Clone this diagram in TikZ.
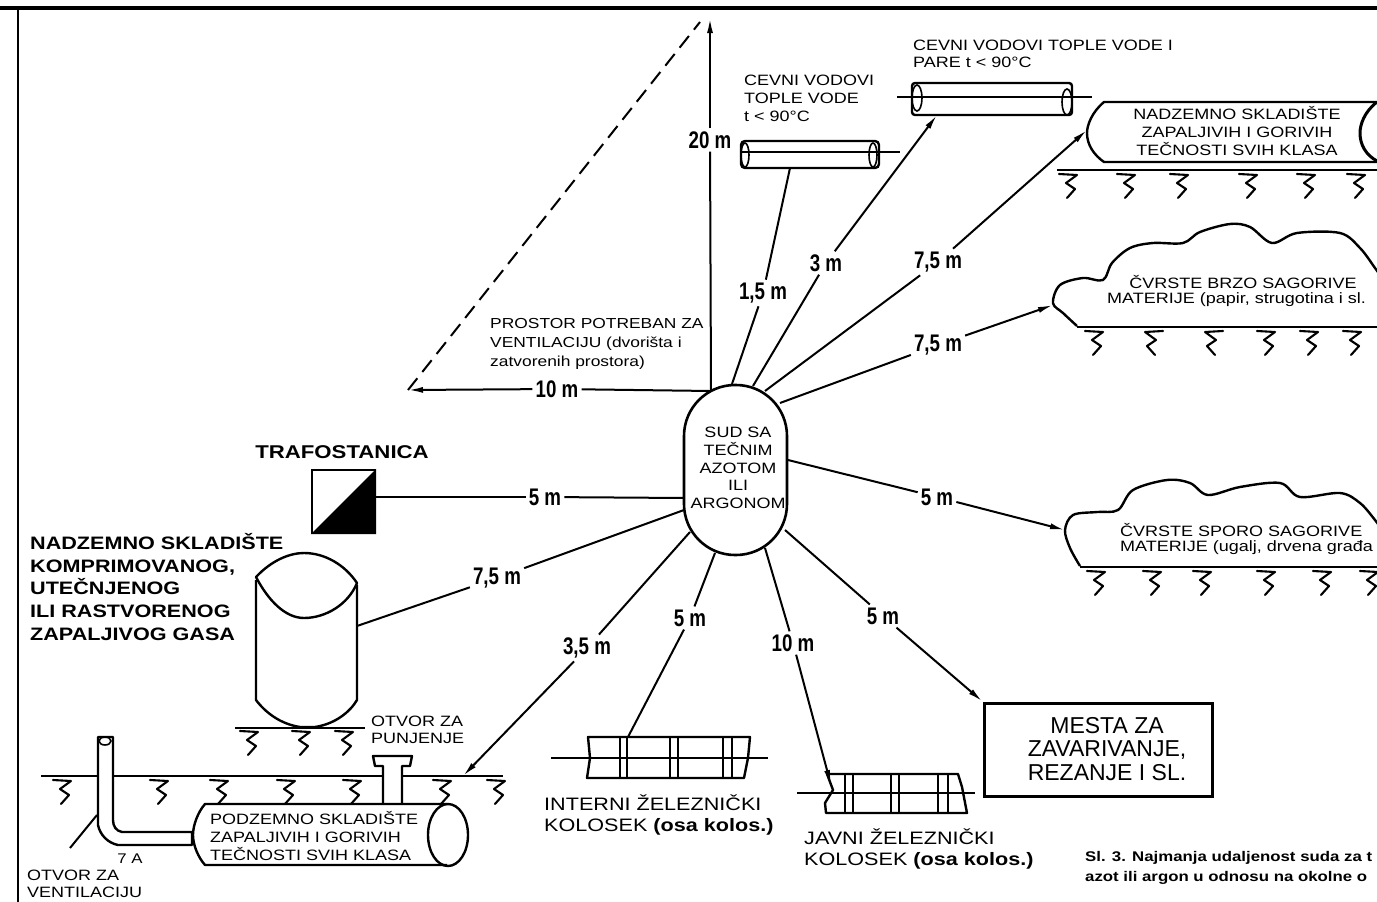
\documentclass[tikz,border=0pt]{standalone}
\usepackage{fontspec}
\usepackage{graphicx}
\setmainfont[FakeStretch=1.2]{Liberation Sans}
\newfontfamily\nf{Liberation Sans}
\usetikzlibrary{arrows.meta}
\newcommand{\dimtxt}[1]{\scalebox{.78}[1]{\nf\bfseries #1}}
\tikzset{
  conn/.style={line width=2pt},
  arr/.style={line width=2pt,-{Latex[length=15pt,width=6pt]}},
  shapeline/.style={line width=2.4pt,line join=round},
  thin axis/.style={line width=1.7pt},
  dimlab/.style={inner sep=3pt,font=\fontsize{24}{24}\selectfont},
  txt/.style={inner sep=0pt,anchor=west,align=left},
  s15/.style={txt,font=\fontsize{15}{17.7}\selectfont},
  s18/.style={txt,font=\fontsize{18}{22.6}\selectfont\bfseries},
  gh/.pic={\draw[line width=2.1pt,line join=round,line cap=round]
     (-10,0)--(8,1)--(-3,9)--(6,15)--(-2,24);},
  ghm/.pic={\draw[line width=2.1pt,line join=round,line cap=round]
     (10,0)--(-8,1)--(3,9)--(-6,15)--(2,24);}
}
\begin{document}
\begin{tikzpicture}[x=1pt,y=-1pt]
\useasboundingbox (0,0) rectangle (1377,902);
% frame
\draw[line width=4pt] (0,8) -- (1377,8);
\draw[line width=2.6pt] (18,8) -- (18,902);

% central vessel
\node[draw,line width=2.6pt,rounded corners=51pt,minimum width=103pt,minimum height=170pt,inner sep=0pt] (sud) at (735.5,470) {};
\node[s15,align=center,anchor=center,font=\fontsize{15}{17.8}\selectfont] (sudt) at (738,468) {SUD SA\\TEČNIM\\AZOTOM\\ILI\\ARGONOM};
\coordinate (s15) at (732,384);
\coordinate (s3) at (753,386);
\coordinate (s75t) at (765,391);
\coordinate (s75c) at (780,403);
\coordinate (s5c) at (788,460);
\coordinate (s5w) at (785,530);
\coordinate (s10) at (765,548);
\coordinate (s5i) at (715,553);
\coordinate (s35) at (690,532);
\coordinate (s75w) at (684,510);
\coordinate (s5t) at (684,498);

% ventilation triangle
\coordinate (tA) at (408,390);
\coordinate (tB) at (710,18);
\coordinate (tC) at (711,391);
\coordinate (tD) at (700,22);
\node[dimlab] (l20) at (710,140) {\dimtxt{20 m}};
\node[dimlab] (l10) at (557,389) {\dimtxt{10 m}};
\draw[conn,dash pattern=on 15pt off 8pt] (tA) -- (tD);
\draw[arr] (l20) -- (tB);
\draw[conn] (l20) -- (tC);
\draw[arr] (l10) -- (tA);
\draw[conn] (l10) -- (tC);
\node[s15,font=\fontsize{14.5}{19}\selectfont] (prostor) at (490,344) {PROSTOR POTREBAN ZA\\VENTILACIJU (dvorišta i\\zatvorenih prostora)};

% pipe 1
\node[draw,line width=2.4pt,rounded corners=4pt,minimum width=138pt,minimum height=27pt,inner sep=0pt] (pipeA) at (810,154.5) {};
\draw[line width=1.6pt] (745,155) ellipse [x radius=4, y radius=12];
\draw[line width=1.6pt] (873,155) ellipse [x radius=4, y radius=12];
\draw[thin axis] (741,152) -- (900,152);
\node[s15,font=\fontsize{15}{18}\selectfont] (pipeAt) at (744,98) {CEVNI VODOVI\\TOPLE VODE\\t < 90°C};
\coordinate (pipeAb) at (790,168);

% pipe 2
\node[draw,line width=2.4pt,rounded corners=3pt,minimum width=160pt,minimum height=32pt,inner sep=0pt] (pipeB) at (992,99) {};
\draw[line width=1.6pt] (917,98) ellipse [x radius=5, y radius=13];
\draw[line width=1.6pt] (1067,102) ellipse [x radius=5, y radius=13];
\draw[thin axis] (897,97) -- (1092,97);
\node[s15,font=\fontsize{15}{17}\selectfont] (pipeBt) at (913,54) {CEVNI VODOVI TOPLE VODE I\\PARE t < 90°C};
\coordinate (pipeBb) at (937,115);

% surface tank
\draw[shapeline] (1377,102) -- (1104,102) .. controls (1092,112) and (1087,125) .. (1087,133)
   .. controls (1087,145) and (1094,155) .. (1104,162) -- (1377,162);
\draw[line width=3pt] (1377,102) .. controls (1364,112) and (1360,125) .. (1360,133)
   .. controls (1360,145) and (1366,155) .. (1377,161);
\node[s15,align=center,anchor=center,font=\fontsize{15}{18}\selectfont] (tankT) at (1237,131.5) {NADZEMNO SKLADIŠTE\\ZAPALJIVIH I GORIVIH\\TEČNOSTI SVIH KLASA};
\coordinate (tankL) at (1087,130);
\draw[shapeline] (1057,170) -- (1377,170);
\foreach \x in {1069,1127,1180,1249,1307,1357} \pic at (\x,174) {gh};

% cloud 1
\draw[shapeline] plot[smooth,tension=.55] coordinates {(1077,326) (1063,313) (1053,303) (1060,285) (1083,278) (1103,280) (1112,263) (1130,248) (1153,243) (1183,243) (1200,232) (1230,224) (1250,227) (1272,243) (1297,233) (1340,233) (1360,248) (1375,268) (1382,278)};
\draw[shapeline] (1077,327) -- (1377,327);
\foreach \x in {1095,1267,1310,1353} \pic at (\x,331) {gh};
\foreach \x in {1153,1213} \pic at (\x,331) {ghm};
\node[s15,align=center,anchor=center,font=\fontsize{15}{17.5}\selectfont] (cl1a) at (1243,282) {ČVRSTE BRZO SAGORIVE};
\node[s15,font=\fontsize{15}{17.5}\selectfont] (cl1b) at (1107,300) {MATERIJE (papir, strugotina i sl.};
\coordinate (cl1L) at (1053,305);

% cloud 2
\draw[shapeline] plot[smooth,tension=.55] coordinates {(1080,566) (1070,548) (1065,530) (1073,515) (1097,512) (1118,510) (1133,490) (1167,480) (1190,483) (1208,495) (1240,487) (1280,483) (1300,497) (1340,493) (1360,503) (1375,520) (1382,530)};
\draw[shapeline] (1080,567) -- (1377,567);
\foreach \x in {1097,1203,1267,1370} \pic at (\x,571) {gh};
\foreach \x in {1153,1323} \pic at (\x,571) {gh};
\node[s15,font=\fontsize{15}{17.5}\selectfont] (cl2a) at (1120,530) {ČVRSTE SPORO SAGORIVE};
\node[s15,font=\fontsize{15}{17.5}\selectfont] (cl2b) at (1120,548) {MATERIJE (ugalj, drvena građa};
\coordinate (cl2L) at (1065,530);

% transformer
\node[draw,line width=2.4pt,minimum size=63pt,inner sep=0pt] (trafo) at (343.5,501.5) {};
\fill (trafo.north east) -- (trafo.south east) -- (trafo.south west) -- cycle;
\node[txt,anchor=center,font=\fontsize{18.5}{22}\selectfont\bfseries] (trafot) at (342,452) {TRAFOSTANICA};

% gas tank (cylinder)
\draw[shapeline] (256,580) -- (256,700) .. controls (265,712) and (280,724) .. (300,727)
   -- (315,727) .. controls (335,724) and (350,712) .. (357,700) -- (357,585);
\draw[shapeline] (256,577) .. controls (272,560) and (290,553) .. (304,553)
   .. controls (325,553) and (345,565) .. (357,583)
   .. controls (348,605) and (325,618) .. (304,618)
   .. controls (285,618) and (268,600) .. (256,577) -- cycle;
\node[s18] (gast) at (30,587) {NADZEMNO SKLADIŠTE\\KOMPRIMOVANOG,\\UTEČNJENOG\\ILI RASTVORENOG\\ZAPALJIVOG GASA};
\coordinate (gasR) at (357,626);
\draw[shapeline] (235,728) -- (365,728);
\pic at (250,731) {gh};
\pic at (302,731) {gh};
\pic at (345,731) {gh};

% underground tank
\draw[shapeline] (41,776) -- (503,776);
\foreach \x in {63,160,220,287,353,443,497} \pic at (\x,780) {gh};
\draw[shapeline,fill=white] (98,737) -- (98,825) .. controls (100,835) and (108,843) .. (118,845) -- (192,845)
  -- (192,832) -- (122,832) .. controls (116,831) and (113,826) .. (113,820) -- (113,737) -- cycle;
\draw[line width=1.6pt] (105,741) ellipse [x radius=6, y radius=4];
\draw[shapeline,fill=white] (383,804) -- (383,766) -- (375,766) -- (373,756) -- (412,756) -- (410,766) -- (402,766) -- (402,804);
\draw[shapeline,fill=white] (447,804) -- (205,804) .. controls (198,812) and (193,825) .. (193,835)
  .. controls (193,845) and (198,857) .. (205,865) -- (447,865);
\draw[shapeline] (448,835) ellipse [x radius=20, y radius=31];
\node[s15,font=\fontsize{15}{18}\selectfont] (podt) at (210,836) {PODZEMNO SKLADIŠTE\\ZAPALJIVIH I GORIVIH\\TEČNOSTI SVIH KLASA};
\node[txt,font=\fontsize{15}{17}\selectfont] (otvp) at (371,730) {OTVOR ZA\\PUNJENJE};
\node[txt,font=\fontsize{15}{17}\selectfont] (otvv) at (27,884) {OTVOR ZA\\VENTILACIJU};
\node[txt,anchor=center,font=\fontsize{14}{14}\selectfont] (sevena) at (130,859) {7 A};
\coordinate (ventA) at (97,815);
\coordinate (ventB) at (70,848);
\draw[conn] (ventA) -- (ventB);
\coordinate (undG) at (463,776);

% internal track
\draw[shapeline] (588,737) -- (750,737) -- (748,758) -- (744,778) -- (587,778) -- (590,758) -- cycle;
\draw[thin axis] (551,758) -- (768,758);
\foreach \x in {620,627,670,678,723,732} \draw[line width=1.8pt] (\x,737) -- (\x,778);
\coordinate (intT) at (628,737);
\node[txt,font=\fontsize{18}{21.5}\selectfont] (intt) at (544,815) {INTERNI ŽELEZNIČKI\\KOLOSEK {\bfseries (osa kolos.)}};

% public track
\draw[shapeline] (827,774) -- (958,774) -- (962,787) -- (967,813) -- (826,813) -- (825,803) -- (833,790) -- cycle;
\draw[thin axis] (797,793) -- (975,793);
\foreach \x in {845,853,891,899,938,948} \draw[line width=1.8pt] (\x,774) -- (\x,813);
\coordinate (pubT) at (831,785);
\node[txt,font=\fontsize{18}{21.5}\selectfont] (pubt) at (804,849) {JAVNI ŽELEZNIČKI\\KOLOSEK {\bfseries (osa kolos.)}};

% welding box
\node[draw,line width=3pt,minimum width=228pt,minimum height=93pt,inner sep=0pt] (mesta) at (1098,749.5) {};
\node[inner sep=0pt,align=center,font=\nf\fontsize{23}{23.5}\selectfont] (mestat) at (1107,749) {MESTA ZA\\ZAVARIVANJE,\\REZANJE I SL.};

% distance labels
\node[dimlab] (d15) at (763,293) {\dimtxt{1,5 m}};
\node[dimlab] (d3)  at (826,263) {\dimtxt{3 m}};
\node[dimlab] (d75t) at (938,262) {\dimtxt{7,5 m}};
\node[dimlab] (d75c) at (938,345) {\dimtxt{7,5 m}};
\node[dimlab] (d5c) at (937,497) {\dimtxt{5 m}};
\node[dimlab] (d5t) at (545,497) {\dimtxt{5 m}};
\node[dimlab] (d75w) at (497,578) {\dimtxt{7,5 m}};
\node[dimlab] (d35) at (587,648) {\dimtxt{3,5 m}};
\node[dimlab] (d5i) at (690,618) {\dimtxt{5 m}};
\node[dimlab] (d10) at (793,643) {\dimtxt{10 m}};
\node[dimlab] (d5w) at (883,616) {\dimtxt{5 m}};

% connectors
\draw[conn] (s15) -- (d15); \draw[conn] (d15) -- (pipeAb);
\draw[conn] (s3) -- (d3); \draw[arr] (d3) -- (pipeBb);
\draw[conn] (s75t) -- (d75t); \draw[arr] (d75t) -- (tankL);
\draw[conn] (s75c) -- (d75c); \draw[arr] (d75c) -- (cl1L);
\draw[conn] (s5c) -- (d5c); \draw[arr] (d5c) -- (cl2L);
\draw[conn] (s5t) -- (d5t); \draw[conn] (d5t) -- (trafo.east |- d5t);
\draw[conn] (s75w) -- (d75w); \draw[conn] (d75w) -- (gasR);
\draw[conn] (s35) -- (d35); \draw[arr] (d35) -- (undG);
\draw[conn] (s5i) -- (d5i); \draw[conn] (d5i) -- (intT);
\draw[conn] (s10) -- (d10); \draw[arr] (d10) -- (pubT);
\draw[conn] (s5w) -- (d5w); \draw[arr] (d5w) -- (mesta.north west);

% caption
\node[txt,font=\fontsize{14}{20}\selectfont\bfseries] (capt) at (1085,868) {Sl. 3. Najmanja udaljenost suda za t\\azot ili argon u odnosu na okolne o};
\end{tikzpicture}
\end{document}
